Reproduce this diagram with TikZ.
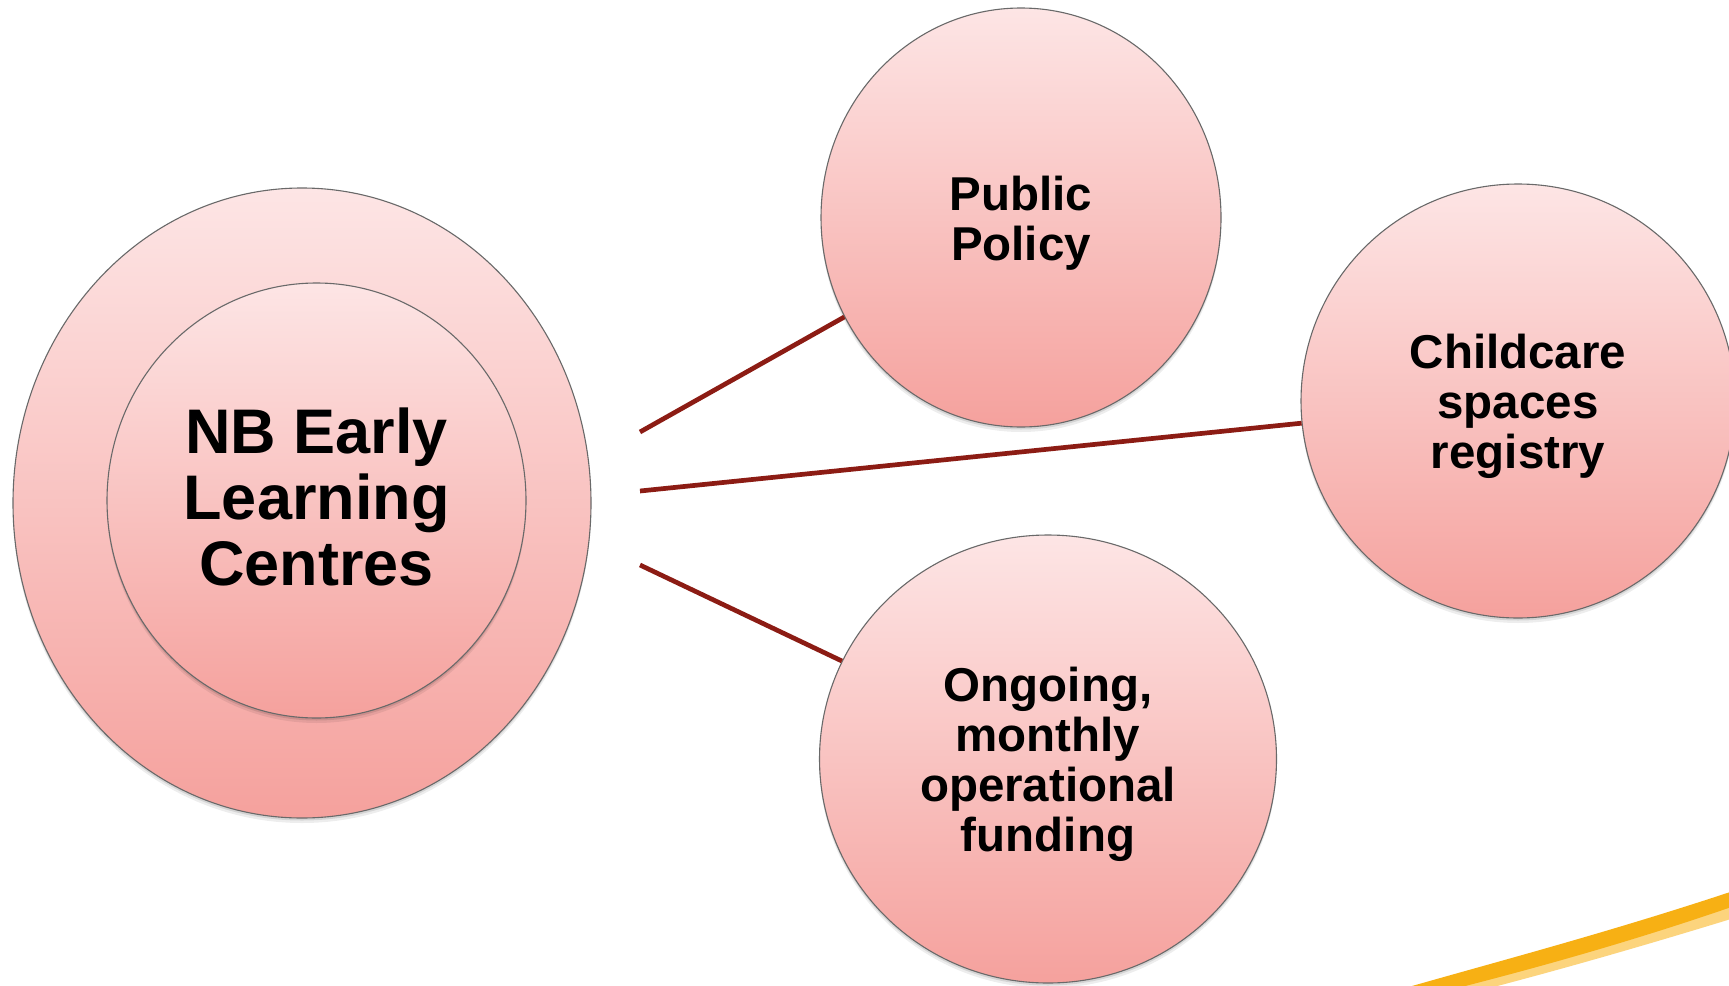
\documentclass[tikz,border=0pt]{standalone}
\usepackage{fontspec}
\setmainfont{Liberation Sans}
\usetikzlibrary{shapes.geometric,shadows}

\definecolor{pinktop}{RGB}{253,229,229}
\definecolor{pinkbot}{RGB}{245,161,157}
\definecolor{rimgray}{RGB}{105,105,105}
\definecolor{linkred}{RGB}{140,28,20}
\definecolor{swooshcol}{RGB}{247,176,20}
\definecolor{swooshhalo}{RGB}{252,212,125}

% struts that nudge a text block down (top) or up (bottom) inside its bubble
\newcommand{\topstrut}{\rule{0pt}{45pt}}
\newcommand{\botstrut}{\rule[-8pt]{0pt}{8pt}}

\tikzset{
  bubble/.style={ellipse, draw=rimgray, line width=1.1pt,
    top color=pinktop, bottom color=pinkbot,
    inner sep=0pt, align=center,
    general shadow={fill=black, opacity=0.07, shadow yshift=-5pt},
    general shadow={fill=black, opacity=0.10, shadow yshift=-2.5pt}},
  smalltext/.style={font=\bfseries\fontsize{47.5}{50}\selectfont},
  bigtext/.style={font=\bfseries\fontsize{63}{66}\selectfont},
  link/.style={draw=linkred, line width=4.7pt},
}

\begin{document}
\begin{tikzpicture}[x=1pt,y=-1pt]
  % page frame
  \fill[white] (0,0) rectangle (1729,985);
  \useasboundingbox (0,0) rectangle (1729,985);

  % decorative swoosh in the lower right corner
  \begin{scope}
    \clip (0,0) rectangle (1729,985);
    \fill[swooshhalo] (1405,996) .. controls (1510,966) and (1625,936) .. (1760,895)
      -- (1760,910) .. controls (1625,952) and (1510,984) .. (1410,1008) -- cycle;
    \fill[swooshcol] (1405,988) .. controls (1510,958) and (1625,928) .. (1760,882)
      -- (1760,897) .. controls (1625,945) and (1510,975) .. (1410,1000) -- cycle;
  \end{scope}

  % centre: two nested rings
  \node[bubble, minimum width=578pt, minimum height=630pt] (outer) at (302,503) {};
  \node[bubble, bigtext, minimum width=419pt, minimum height=435pt] (nb) at (316.5,500.5)
    {NB Early\\Learning\\Centres\botstrut};

  % satellites
  \node[bubble, smalltext, minimum width=400pt, minimum height=419pt] (pp) at (1021,217.5)
    {\topstrut Public\\Policy};
  \node[bubble, smalltext, minimum width=434pt, minimum height=434pt] (cs) at (1518,401)
    {\topstrut Childcare\\spaces\\registry};
  \node[bubble, smalltext, minimum width=457pt, minimum height=448pt] (of) at (1048,759)
    {\topstrut Ongoing,\\monthly\\operational\\funding};

  % connectors
  \coordinate (s1) at (640,432);
  \coordinate (s2) at (640,491);
  \coordinate (s3) at (640,565);
  \draw[link] (s1) -- (pp);
  \draw[link] (s2) -- (cs);
  \draw[link] (s3) -- (of);
\end{tikzpicture}
\end{document}
